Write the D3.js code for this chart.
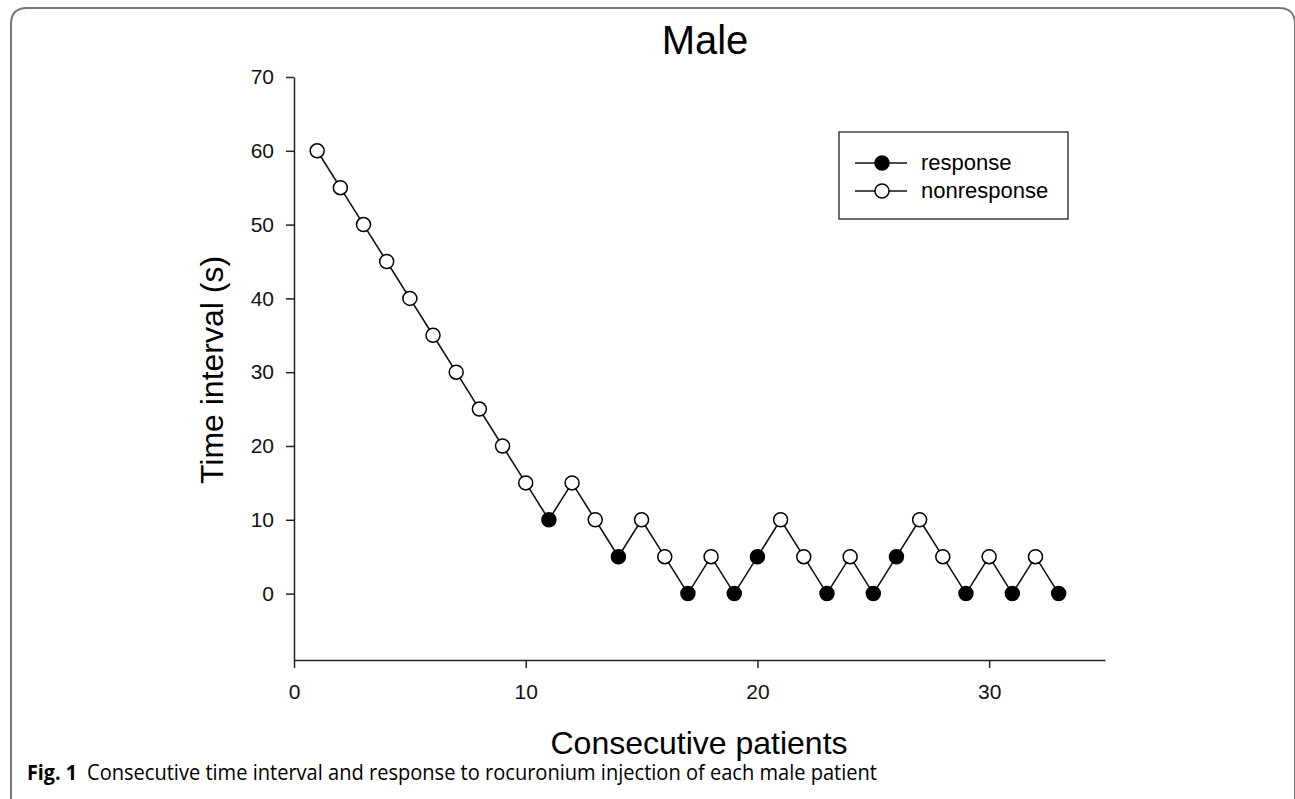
<!DOCTYPE html>
<html>
<head>
<meta charset="utf-8">
<script src="https://cdn.jsdelivr.net/npm/d3@7"></script>
<style>
  body { margin: 0; background: #fff; }
  svg { display: block; }
  .axis path, .axis line { stroke: #222; stroke-width: 1.5px; }
  .axis text { font-family: "Liberation Sans", Arial, sans-serif; font-size: 21px; fill: #111; }
</style>
</head>
<body>
<div id="chart"></div>
<script>
// Data
var patients = d3.range(1, 34);
var intervals = [60, 55, 50, 45, 40, 35, 30, 25, 20, 15, 10, 15, 10, 5, 10, 5, 0,
                 5, 0, 5, 10, 5, 0, 5, 0, 5, 10, 5, 0, 5, 0, 5, 0];
// 1 = response, 0 = nonresponse
var responses = [0, 0, 0, 0, 0, 0, 0, 0, 0, 0, 1, 0, 0, 1, 0, 0, 1,
                 0, 1, 1, 0, 0, 1, 0, 1, 1, 0, 0, 1, 0, 1, 0, 1];
var xTicks = [0, 10, 20, 30];
var yTicks = [0, 10, 20, 30, 40, 50, 60, 70];
var legendItems = ["response", "nonresponse"];

var svgWidth = 1295, svgHeight = 799;

var svg = d3.select("#chart")
    .append("svg")
    .attr("width", svgWidth)
    .attr("height", svgHeight);

// Rounded frame (open at bottom)
svg.append("path")
    .attr("d", "M11,799 L11,24 Q11,8 27,8 L1279,8 Q1295,8 1295,24 L1295,799")
    .attr("fill", "none")
    .attr("stroke", "#777")
    .attr("stroke-width", 2);

var data = patients.map(function(p, i) {
    return { x: p, y: intervals[i], resp: responses[i] };
});

// Scales
var xScale = d3.scaleLinear().domain([0, 35]).range([294, 1105]);
var yScale = d3.scaleLinear().domain([-9, 70]).range([660, 77]);

// Axes
var bottomAxis = d3.axisBottom(xScale).tickValues(xTicks).tickSize(8).tickPadding(16).tickSizeOuter(0);
var leftAxis = d3.axisLeft(yScale).tickValues(yTicks).tickSize(8).tickPadding(12).tickSizeOuter(0);

svg.append("g")
    .attr("class", "axis")
    .attr("transform", "translate(0, 660)")
    .call(bottomAxis);

svg.append("g")
    .attr("class", "axis")
    .attr("transform", "translate(294, 0)")
    .call(leftAxis);

// Connecting line
var line = d3.line()
    .x(d => xScale(d.x))
    .y(d => yScale(d.y));

svg.append("path")
    .datum(data)
    .attr("d", line)
    .attr("fill", "none")
    .attr("stroke", "#111")
    .attr("stroke-width", 1.6);

// Markers
svg.selectAll("circle.pt")
    .data(data)
    .enter()
    .append("circle")
    .attr("class", "pt")
    .attr("cx", d => xScale(d.x))
    .attr("cy", d => yScale(d.y))
    .attr("r", 7)
    .attr("fill", d => d.resp ? "#000" : "#fff")
    .attr("stroke", "#000")
    .attr("stroke-width", 1.5);

// Title
svg.append("text")
    .attr("x", 705)
    .attr("y", 54)
    .attr("text-anchor", "middle")
    .style("font-family", "Liberation Sans, Arial, sans-serif")
    .style("font-size", "40px")
    .text("Male");

// Axis labels
svg.append("text")
    .attr("x", 699)
    .attr("y", 754)
    .attr("text-anchor", "middle")
    .style("font-family", "Liberation Sans, Arial, sans-serif")
    .style("font-size", "32px")
    .text("Consecutive patients");

svg.append("text")
    .attr("transform", "translate(223, 370) rotate(-90)")
    .attr("text-anchor", "middle")
    .style("font-family", "Liberation Sans, Arial, sans-serif")
    .style("font-size", "32px")
    .text("Time interval (s)");

// Legend
var legend = svg.append("g");
legend.append("rect")
    .attr("x", 839)
    .attr("y", 132)
    .attr("width", 229)
    .attr("height", 87)
    .attr("fill", "#fff")
    .attr("stroke", "#111")
    .attr("stroke-width", 1.2);

legendItems.forEach(function(name, i) {
    var ly = 163 + i * 28;
    legend.append("line")
        .attr("x1", 855).attr("x2", 907)
        .attr("y1", ly).attr("y2", ly)
        .attr("stroke", "#111")
        .attr("stroke-width", 1.5);
    legend.append("circle")
        .attr("cx", 882).attr("cy", ly).attr("r", 7)
        .attr("fill", i === 0 ? "#000" : "#fff")
        .attr("stroke", "#000")
        .attr("stroke-width", 1.5);
    legend.append("text")
        .attr("x", 921)
        .attr("y", ly + 7)
        .style("font-family", "Liberation Sans, Arial, sans-serif")
        .style("font-size", "22px")
        .text(name);
});

// Caption
svg.append("text")
    .attr("x", 27)
    .attr("y", 780)
    .style("font-family", "Open Sans, Noto Sans, sans-serif")
    .style("font-size", "21px")
    .style("font-weight", "bold")
    .attr("textLength", 50)
    .attr("lengthAdjust", "spacingAndGlyphs")
    .text("Fig. 1");

svg.append("text")
    .attr("x", 87)
    .attr("y", 780)
    .style("font-family", "Open Sans, Noto Sans, sans-serif")
    .style("font-size", "21px")
    .attr("textLength", 790)
    .attr("lengthAdjust", "spacingAndGlyphs")
    .text("Consecutive time interval and response to rocuronium injection of each male patient");
</script>
</body>
</html>
